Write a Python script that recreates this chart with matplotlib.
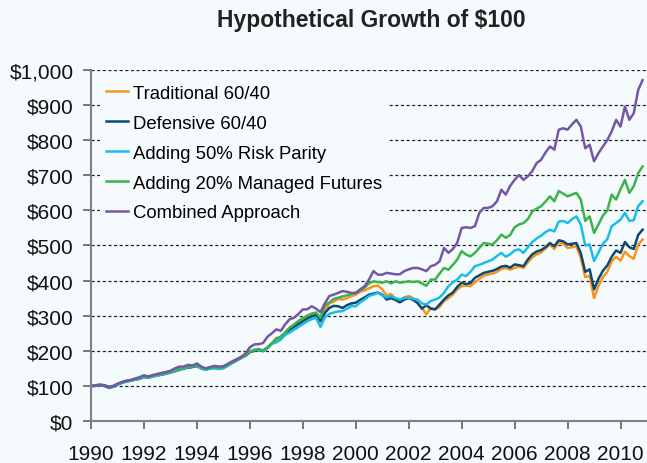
import numpy as np
import matplotlib
matplotlib.use("Agg")
import matplotlib.pyplot as plt

# values every two months (Jan, Mar, May, Jul, Sep, Nov), 1990 - 2010
dates = 1990 + np.arange(126) / 6.0

traditional = [
    100, 101, 103, 101, 96, 98,
    105, 110, 113, 115, 118, 121,
    126, 124, 128, 130, 132, 135,
    138, 142, 145, 149, 152, 154,
    156, 150, 147, 149, 151, 150,
    152, 159, 166, 172, 179, 186,
    196, 200, 203, 200, 209, 221,
    236, 240, 252, 265, 272, 280,
    290, 298, 302, 306, 288, 318,
    335, 340, 348, 346, 350, 356,
    360, 368, 372, 378, 384, 386,
    375, 358, 362, 348, 342, 352,
    356, 350, 336, 322, 304, 322,
    318, 325, 342, 350, 360, 375,
    384, 386, 384, 395, 405, 414,
    417, 420, 425, 433, 436, 431,
    436, 440, 436, 452, 466, 475,
    480, 492, 503, 490, 510, 505,
    493, 495, 498, 465, 410, 413,
    350, 385, 410, 425, 455, 468,
    457, 482, 470, 462, 503, 517,
]

defensive = [
    100, 100, 102, 100, 95, 97,
    104, 109, 113, 115, 118, 120,
    125, 124, 127, 130, 132, 135,
    138, 142, 146, 150, 152, 154,
    157, 150, 147, 150, 152, 150,
    152, 159, 166, 173, 180, 186,
    196, 200, 202, 199, 208, 220,
    234, 238, 250, 260, 268, 276,
    284, 292, 298, 302, 284, 308,
    322, 328, 327, 322, 330, 335,
    337, 345, 352, 360, 363, 366,
    360, 346, 350, 345, 338, 346,
    350, 345, 336, 320, 330, 320,
    318, 332, 346, 358, 366, 382,
    394, 390, 393, 408, 415, 422,
    425, 428, 433, 440, 442, 437,
    446, 444, 441, 460, 475, 483,
    487, 495, 507, 498, 515, 512,
    503, 505, 507, 478, 425, 432,
    375, 405, 428, 443, 468, 486,
    479, 510, 495, 490, 530, 545,
]

risk_parity = [
    99, 100, 102, 101, 97, 98,
    104, 108, 112, 115, 118, 120,
    124, 123, 127, 130, 132, 135,
    138, 142, 146, 150, 153, 155,
    157, 149, 146, 149, 150, 148,
    150, 157, 165, 172, 180, 188,
    197, 202, 204, 200, 208, 220,
    224, 232, 245, 252, 260, 268,
    276, 284, 290, 294, 268, 296,
    305, 309, 312, 313, 320, 327,
    327, 338, 346, 356, 360, 365,
    358, 352, 356, 350, 346, 351,
    351, 348, 346, 335, 332, 342,
    346, 352, 365, 384, 395, 403,
    417, 413, 425, 441, 445, 450,
    455, 460, 470, 479, 468, 475,
    486, 489, 479, 495, 510, 520,
    528, 538, 545, 540, 568, 570,
    564, 575, 583, 560, 500, 503,
    456, 480, 505, 518, 555, 564,
    574, 593, 570, 572, 612, 626,
]

managed_futures = [
    100, 102, 104, 102, 98, 100,
    106, 110, 114, 116, 119, 122,
    127, 125, 129, 132, 134, 137,
    140, 145, 148, 152, 155, 156,
    159, 152, 149, 152, 154, 152,
    153, 160, 167, 173, 180, 187,
    198, 203, 205, 201, 210, 222,
    233, 240, 252, 266, 275, 285,
    293, 300, 306, 309, 294, 330,
    337, 348, 351, 355, 358, 362,
    365, 372, 380, 392, 398, 396,
    394, 398, 392, 398, 394, 396,
    398, 396, 398, 392, 385, 403,
    403, 420, 436, 431, 445, 460,
    484, 474, 469, 479, 493, 507,
    505, 503, 515, 531, 522, 530,
    552, 560, 564, 575, 597, 605,
    612, 625, 640, 626, 655, 648,
    640, 645, 650, 631, 570, 583,
    536, 560, 585, 600, 645, 631,
    660, 687, 650, 669, 706, 725,
]

combined = [
    100, 101, 103, 102, 97, 99,
    106, 111, 115, 117, 121, 125,
    130, 127, 131, 134, 137, 140,
    143, 150, 155, 155, 160, 158,
    164, 155, 150, 154, 157, 155,
    156, 163, 170, 176, 183, 192,
    210, 218, 219, 222, 240, 250,
    261, 257, 275, 290, 294, 305,
    318, 318, 327, 320, 310, 335,
    356, 360, 365, 370, 368, 365,
    365, 375, 384, 403, 427, 417,
    417, 422, 420, 418, 418, 427,
    432, 436, 436, 432, 427, 441,
    445, 455, 493, 479, 490, 508,
    550, 552, 550, 555, 593, 607,
    607, 612, 626, 659, 645, 670,
    687, 701, 687, 697, 712, 735,
    744, 765, 782, 773, 830, 834,
    830, 845, 858, 839, 777, 787,
    740, 763, 782, 800, 825, 858,
    839, 896, 858, 877, 943, 971,
]

labels = ['Traditional 60/40', 'Defensive 60/40', 'Adding 50% Risk Parity',
          'Adding 20% Managed Futures', 'Combined Approach']
colors = ['#F7941E', '#0D4A73', '#1DBCE8', '#3BB44A', '#7457A6']
series = [traditional, defensive, risk_parity, managed_futures, combined]

y_ticks = np.arange(0, 1001, 100)
x_ticks = np.arange(1990, 2011, 2)

bg = '#f5fbfd'
plt.rcParams['font.family'] = ['Liberation Sans', 'DejaVu Sans']

fig = plt.figure(figsize=(6.47, 4.64), dpi=100, facecolor=bg)
ax = fig.add_axes([91/647, 42/464, 556/647, 351/464], facecolor=bg)

for s, lab, c in zip(series, labels, colors):
    ax.plot(dates, s, color=c, lw=1.8, label=lab, solid_joinstyle='round')

ax.set_xlim(1990, 2011)
ax.set_ylim(0, 1000)
ax.set_xticks(x_ticks)
ax.set_yticks(y_ticks)
ax.set_yticklabels(['${:,}'.format(v) for v in y_ticks])

for v in y_ticks[1:]:
    ax.axhline(v, color='#222222', lw=0.9, ls=(0, (2.5, 2.0)), zorder=0.5)

for side in ['top', 'right']:
    ax.spines[side].set_visible(False)
for side in ['left', 'bottom']:
    ax.spines[side].set_color('#808080')
    ax.spines[side].set_linewidth(1.5)

ax.tick_params(axis='y', length=5.5, width=1.2, color='#606060', pad=7, labelsize=15, labelcolor='#111111')
ax.tick_params(axis='x', length=5.5, width=1.2, color='#606060', pad=11, labelsize=15, labelcolor='#111111')

leg = ax.legend(loc='upper left', fontsize=13.3, handlelength=1.2, handletextpad=0.3,
                labelspacing=0.7, borderpad=0.3, borderaxespad=0.5,
                frameon=True, fancybox=False, facecolor=bg, edgecolor='none', framealpha=1)
leg.set_zorder(5)

fig.text(371/647, 1 - 21/464, 'Hypothetical Growth of $100', ha='center', va='center',
         fontsize=16.5, fontweight='bold', color='#222222')

fig.savefig('out.png', dpi=100, facecolor=bg)
